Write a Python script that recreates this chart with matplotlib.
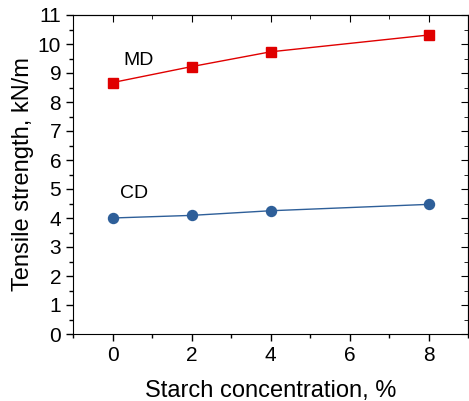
import numpy as np
import matplotlib.pyplot as plt
from matplotlib.ticker import MultipleLocator

plt.rcParams['font.family'] = ['Liberation Sans', 'DejaVu Sans']

conc = [0, 2, 4, 8]
md = [8.67, 9.22, 9.73, 10.31]
cd = [4.00, 4.09, 4.25, 4.47]

fig = plt.figure(figsize=(4.69, 4.01), dpi=100)
ax = fig.add_axes([73/469, 1 - 334/401, (469 - 73)/469 - 0.002, (334 - 15)/401])

ax.plot(conc, md, color='#e00000', lw=1, marker='s', ms=6.8)
ax.plot(conc, cd, color='#2e5f99', lw=1, marker='o', ms=7.2)

ax.text(0.27, 9.42, 'MD', fontsize=14, ha='left', va='center')
ax.text(0.2, 4.86, 'CD', fontsize=14, ha='left', va='center')

ax.set_xlim(-1, 9)
ax.set_ylim(0, 11)
ax.set_xticks([0, 2, 4, 6, 8])
ax.xaxis.set_minor_locator(MultipleLocator(1))
ax.set_yticks(np.arange(0, 12, 1))
ax.yaxis.set_minor_locator(MultipleLocator(0.5))

ax.tick_params(axis='both', which='major', labelsize=15, length=5, width=1)
ax.tick_params(axis='both', which='minor', length=3, width=1)
ax.tick_params(axis='both', which='both', direction='out')

# ticks on top and right point inward, no labels
sec_x = ax.secondary_xaxis('top')
sec_x.set_xticks([0, 2, 4, 6, 8])
sec_x.xaxis.set_minor_locator(MultipleLocator(1))
sec_x.tick_params(which='both', direction='in', labeltop=False)
sec_x.tick_params(which='major', length=5)
sec_x.tick_params(which='minor', length=3)
sec_y = ax.secondary_yaxis('right')
sec_y.set_yticks(np.arange(0, 12, 1))
sec_y.yaxis.set_minor_locator(MultipleLocator(0.5))
sec_y.tick_params(which='both', direction='in', labelright=False)
sec_y.tick_params(which='major', length=5)
sec_y.tick_params(which='minor', length=3)

ax.set_xlabel('Starch concentration, %', fontsize=17, labelpad=11)
ax.set_ylabel('Tensile strength, kN/m', fontsize=17, labelpad=3)

fig.savefig('out.png', dpi=100)
